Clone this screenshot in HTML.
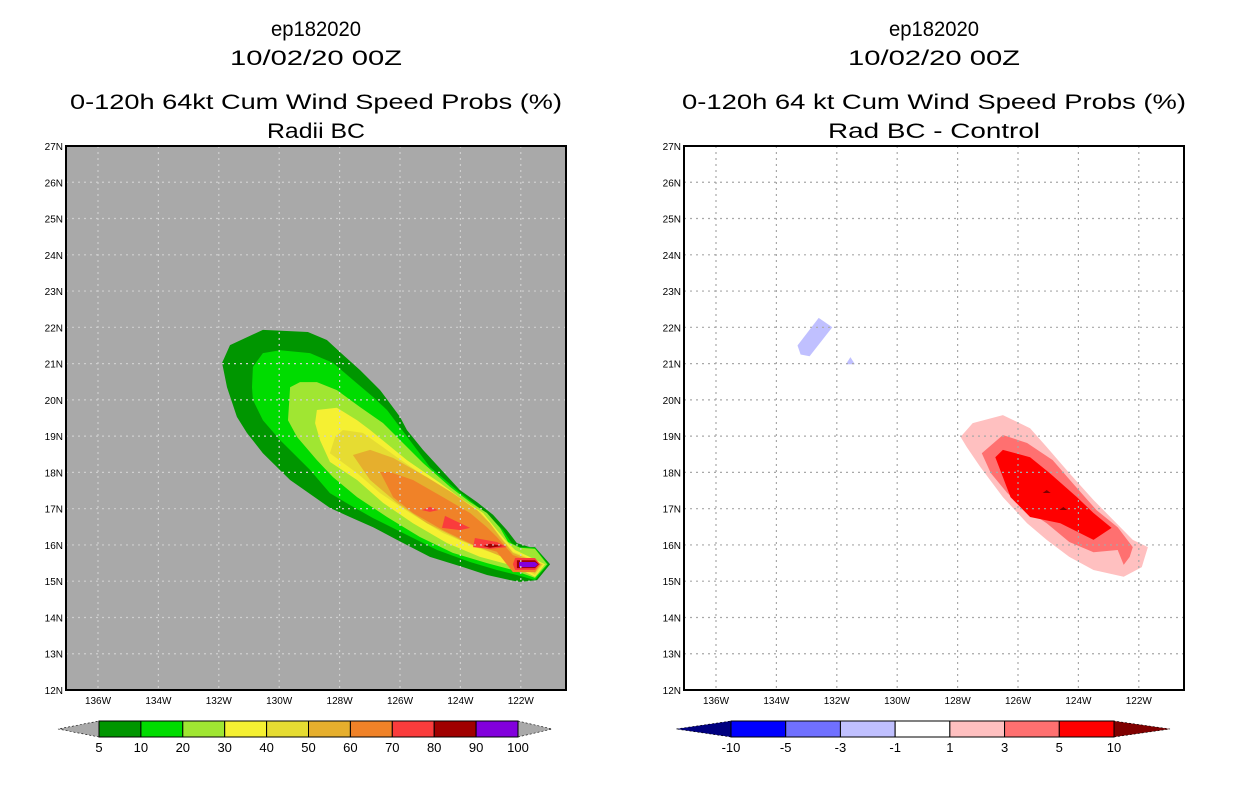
<!DOCTYPE html>
<html><head><meta charset="utf-8"><style>
body{margin:0;background:#fff;}
svg{display:block;font-family:"Liberation Sans",sans-serif;}
</style></head><body>
<svg id="chart" width="1236" height="800" viewBox="0 0 1236 800" xmlns="http://www.w3.org/2000/svg"></svg>
<script>
// ---- data ----
const lonTicks=[136,134,132,130,128,126,124,122];
const latTicks=[12,13,14,15,16,17,18,19,20,21,22,23,24,25,26,27];
const leftLevels=[5,10,20,30,40,50,60,70,80,90,100];
const leftColors=["#009600","#00dc00","#a0e632","#f5f032","#e6dc32","#e6af2d","#f08228","#fa3c3c","#a00000","#8200dc"];
const rightLevels=["-10","-5","-3","-1","1","3","5","10"];
const rightColors=["#0000ff","#7070ff","#c0c0ff","#ffffff","#ffc0c0","#ff7070","#ff0000"];
// contour polygons [lonW, latN]
const c5=[[131.89,21.02],[131.63,21.51],[130.54,21.93],[129.05,21.87],[128.42,21.65],[127.99,21.32],[127.32,20.82],[126.66,20.27],[126.0,19.53],[125.77,19.17],[125.24,18.62],[124.01,17.51],[123.45,17.18],[122.92,16.83],[122.46,16.41],[122.13,16.05],[121.70,15.94],[121.53,15.94],[121.03,15.47],[121.46,15.03],[122.03,14.98],[122.36,15.03],[123.12,15.17],[123.91,15.39],[125.01,15.67],[126.10,16.14],[126.89,16.49],[127.66,16.77],[128.32,17.02],[129.64,17.79],[130.54,18.53],[131.07,19.09],[131.40,19.53],[131.73,20.35]];
const c10=[[130.87,20.91],[130.54,21.29],[129.97,21.37],[128.98,21.29],[128.22,21.02],[127.56,20.55],[126.89,20.08],[126.43,19.72],[125.93,19.17],[125.01,18.15],[124.11,17.51],[123.58,17.16],[123.02,16.77],[122.59,16.41],[122.30,16.05],[122.03,15.94],[121.53,15.92],[121.10,15.47],[121.53,15.03],[122.13,15.17],[122.79,15.31],[123.68,15.53],[124.77,15.86],[125.90,16.33],[126.89,16.74],[127.66,17.10],[128.32,17.43],[128.98,18.07],[129.97,18.89],[130.54,19.44],[130.87,20.0],[130.90,20.35]];
const c20=[[129.64,20.35],[129.31,20.49],[128.75,20.49],[128.09,20.27],[127.32,19.80],[126.56,19.36],[126.33,19.17],[125.24,18.26],[124.34,17.60],[123.68,17.18],[123.12,16.88],[122.69,16.47],[122.42,16.08],[122.03,15.92],[121.53,15.89],[121.13,15.47],[121.53,15.09],[122.26,15.31],[123.12,15.50],[124.25,15.78],[125.34,16.22],[126.43,16.77],[127.42,17.32],[128.22,17.87],[128.75,18.34],[129.41,18.98],[129.71,19.44]];
const c30=[[128.75,19.72],[128.09,19.78],[127.42,19.44],[126.99,19.17],[125.77,18.34],[124.68,17.71],[123.91,17.24],[123.25,16.88],[122.79,16.41],[122.52,16.14],[122.19,15.86],[121.20,15.47],[121.53,15.12],[122.36,15.45],[123.35,15.67],[124.44,16.05],[125.57,16.60],[126.56,17.16],[127.42,17.79],[128.32,18.29],[128.65,18.89],[128.81,19.36]];
const c40=[[127.89,19.17],[127.23,19.09],[126.10,18.42],[125.01,17.79],[124.11,17.32],[123.35,16.91],[122.92,16.49],[122.59,16.14],[122.26,15.81],[121.26,15.47],[121.53,15.17],[122.46,15.64],[123.45,15.92],[124.58,16.33],[125.67,16.88],[126.66,17.43],[127.42,17.98],[128.32,18.53],[128.15,18.98]];
const c50=[[127.56,18.48],[126.99,18.62],[126.23,18.40],[125.11,17.87],[124.25,17.43],[123.45,16.96],[123.02,16.60],[122.69,16.22],[122.26,15.78],[121.30,15.47],[121.53,15.23],[122.36,15.58],[123.02,15.81],[124.01,16.14],[125.11,16.60],[126.10,17.16],[126.99,17.79]];
const c60=[[126.66,18.01],[126.33,18.01],[125.57,17.79],[124.58,17.32],[123.68,16.88],[123.12,16.49],[122.79,16.22],[122.26,15.72],[121.36,15.47],[121.53,15.25],[122.26,15.25],[122.79,15.81],[123.58,16.00],[124.58,16.41],[125.57,16.88],[126.23,17.32]];
const c70a=[[125.27,16.96],[125.01,17.05],[124.74,16.96],[125.01,16.91]];
const c70b=[[124.51,16.80],[123.68,16.47],[124.01,16.41],[124.61,16.47]];
const c70c=[[123.52,16.19],[122.79,16.08],[122.46,15.94],[123.02,15.89],[123.58,15.94]];
const c70d=[[122.19,15.64],[121.53,15.64],[121.36,15.47],[121.53,15.31],[122.19,15.31],[122.26,15.47]];
const c80a=[[123.25,15.97],[123.02,16.03],[122.59,15.97],[123.02,15.92]];
const c80b=[[122.13,15.58],[121.53,15.58],[121.40,15.47],[121.53,15.36],[122.13,15.36]];
const c90=[[122.06,15.53],[121.53,15.53],[121.43,15.47],[121.53,15.39],[122.06,15.39]];
const dBlue1=[[133.3,21.5],[132.6,22.26],[132.15,22.0],[132.9,21.2],[133.2,21.25]];
const dBlue2=[[131.7,20.98],[131.55,21.18],[131.4,20.98]];
const dPink=[[127.9,18.98],[127.5,19.36],[126.5,19.58],[125.6,19.22],[125.05,18.7],[124.3,17.98],[123.5,17.24],[122.85,16.69],[122.2,16.14],[121.7,15.94],[121.9,15.39],[122.5,15.12],[123.5,15.31],[124.3,15.67],[125.05,16.14],[125.7,16.6],[126.5,17.32],[127.25,18.15],[127.7,18.7]];
const dRed3=[[127.2,18.53],[126.5,19.03],[125.7,18.81],[124.85,18.34],[124.2,17.71],[123.4,16.96],[122.7,16.49],[122.2,15.94],[122.3,15.67],[122.5,15.45],[122.7,15.86],[123.5,15.8],[124.3,16.08],[125.05,16.6],[125.7,16.96],[126.35,17.43],[126.9,17.98]];
const dRed5=[[126.75,18.42],[126.5,18.62],[125.6,18.42],[124.95,17.98],[124.05,17.32],[123.5,16.88],[122.9,16.47],[123.5,16.14],[124.6,16.6],[125.6,16.77],[126.25,17.32],[126.5,17.87]];
const dMax=[[125.05,17.46],[124.5,16.99]];

// ---- drawing ----
const NS="http://www.w3.org/2000/svg";
const svg=document.getElementById("chart");
function mk(tag,attrs,parent){const e=document.createElementNS(NS,tag);for(const k in attrs)e.setAttribute(k,attrs[k]);(parent||svg).appendChild(e);return e;}
const PW=500,PH=544,TOP=146;
function xs(ox){return lon=>ox+32+(136-lon)*30.2;}
function ys(lat){return TOP+PH-(lat-12)*(PH/15);}

function panel(ox,bg,gridCol,name,titles,polys){
  const g=mk("g",{});
  
  
  const X=xs(ox);
  const cx=ox+PW/2;
  const tY=[36,65,109,138];
  titles.forEach((t,i)=>{const tx=mk("text",{x:cx,y:tY[i],"text-anchor":"middle","font-size":"21",fill:"#000",textLength:t[1],lengthAdjust:"spacingAndGlyphs"},g);tx.textContent=t[0];
    
    });
  const bgR=mk("rect",{x:ox,y:TOP,width:PW,height:PH,fill:bg},g);
  
  
  const cp=mk("clipPath",{id:"cp"+ox},g);mk("rect",{x:ox,y:TOP,width:PW,height:PH},cp);
  const pg=mk("g",{"clip-path":"url(#cp"+ox+")"},g);
  polys.forEach(p=>{const el=mk("polygon",{points:p.pts.map(q=>X(q[0]).toFixed(1)+","+ys(q[1]).toFixed(1)).join(" "),fill:p.col},pg);
    
    });
  lonTicks.forEach(l=>{const ln=mk("line",{x1:X(l),x2:X(l),y1:TOP,y2:TOP+PH,stroke:gridCol,"stroke-width":1.2,"stroke-dasharray":"2,4"},pg);
    
    
    const t=mk("text",{x:X(l),y:TOP+PH+14,"text-anchor":"middle","font-size":"10",fill:"#000"},g);t.textContent=l+"W";
    
    });
  latTicks.forEach(l=>{if(l>12&&l<27){const ln=mk("line",{x1:ox,x2:ox+PW,y1:ys(l),y2:ys(l),stroke:gridCol,"stroke-width":1.2,"stroke-dasharray":"2,4"},pg);
    
    }
    const t=mk("text",{x:ox-3,y:ys(l)+4,"text-anchor":"end","font-size":"10",fill:"#000"},g);t.textContent=l+"N";
    
    });
  const fr=mk("rect",{x:ox,y:TOP,width:PW,height:PH,fill:"none",stroke:"#000","stroke-width":2},g);
  
  
}

panel(66,"#a9a9a9","#cfcfcf","left-panel",[["ep182020",90],["10/02/20 00Z",172],["0-120h 64kt Cum Wind Speed Probs (%)",492],["Radii BC",98]],[
 {pts:c5,col:leftColors[0],name:"contour-5"},{pts:c10,col:leftColors[1],name:"contour-10"},{pts:c20,col:leftColors[2],name:"contour-20"},
 {pts:c30,col:leftColors[3],name:"contour-30"},{pts:c40,col:leftColors[4],name:"contour-40"},{pts:c50,col:leftColors[5],name:"contour-50"},
 {pts:c60,col:leftColors[6],name:"contour-60"},{pts:c70a,col:leftColors[7],name:"contour-70"},{pts:c70b,col:leftColors[7],name:"contour-70"},
 {pts:c70c,col:leftColors[7],name:"contour-70"},{pts:c70d,col:leftColors[7],name:"contour-70"},{pts:c80a,col:leftColors[8],name:"contour-80"},
 {pts:c80b,col:leftColors[8],name:"contour-80"},{pts:c90,col:leftColors[9],name:"contour-90"}]);

panel(684,"#ffffff","#a8a8a8","right-panel",[["ep182020",90],["10/02/20 00Z",172],["0-120h 64 kt Cum Wind Speed Probs (%)",504],["Rad BC - Control",212]],[
 {pts:dBlue1,col:rightColors[2],name:"diff-negative-1"},{pts:dBlue2,col:rightColors[2],name:"diff-negative-1"},
 {pts:dPink,col:rightColors[4],name:"diff-1-3"},{pts:dRed3,col:rightColors[5],name:"diff-3-5"},{pts:dRed5,col:rightColors[6],name:"diff-5-10"}]);
{const X=xs(684);dMax.forEach(p=>{const e=mk("polygon",{points:[[X(p[0])-4,ys(p[1])+1],[X(p[0]),ys(p[1])-2],[X(p[0])+4,ys(p[1])+1]].map(q=>q.join(",")).join(" "),fill:"#800000"});
  
  });}

// colorbars
function colorbar(x0,x1,tl,tr,cols,labs,lcol,rcol,name){
  const g=mk("g",{});
  
  
  const y0=721,y1=737,n=cols.length,w=(x1-x0)/n;
  const a=mk("polygon",{points:`${x0},${y0} ${x0},${y1} ${tl},${(y0+y1)/2}`,fill:lcol,stroke:"#000","stroke-width":0.6,"stroke-dasharray":"2,2"},g);
  
  const b=mk("polygon",{points:`${x1},${y0} ${x1},${y1} ${tr},${(y0+y1)/2}`,fill:rcol,stroke:"#000","stroke-width":0.6,"stroke-dasharray":"2,2"},g);
  
  cols.forEach((c,i)=>{const r=mk("rect",{x:x0+i*w,y:y0,width:w,height:y1-y0,fill:c,stroke:"#000","stroke-width":1},g);
    });
  labs.forEach((l,i)=>{const t=mk("text",{x:x0+i*w,y:752,"text-anchor":"middle","font-size":"13",fill:"#000"},g);t.textContent=l;
    });
}
colorbar(99,518,58,552,leftColors,leftLevels,"#a9a9a9","#a9a9a9","left-colorbar");
colorbar(731,1114,676,1170,rightColors,rightLevels,"#000080","#800000","right-colorbar");
</script>
</body></html>
